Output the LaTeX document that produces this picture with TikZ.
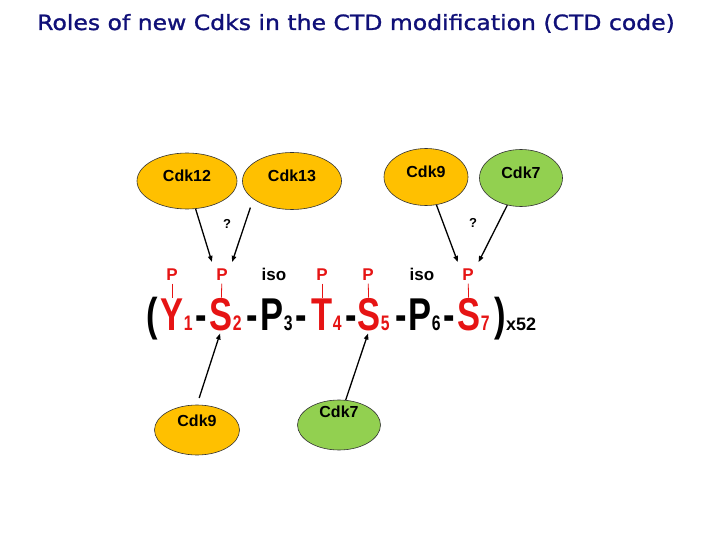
\documentclass[tikz,border=0pt]{standalone}
\usepackage{fontspec}
\setmainfont{Liberation Sans}
\newfontfamily\titlefont[FakeStretch=1.12,FakeBold=1.2]{DejaVu Sans}
\newfontfamily\seqfont[FakeStretch=0.75]{Liberation Sans}
\usetikzlibrary{arrows.meta,shapes.geometric}
\definecolor{ttlblue}{RGB}{16,16,120}
\definecolor{cdkorange}{RGB}{255,192,0}
\definecolor{cdkgreen}{RGB}{146,208,80}
\definecolor{seqred}{RGB}{230,20,20}
\newcommand{\lifted}[2]{\raisebox{#1}[\height][\depth]{#2}}

\begin{document}
\begin{tikzpicture}[x=1pt, y=-1pt,
    cdk/.style={ellipse, draw=black!80, line width=0.6pt, inner sep=0pt,
                font=\fontsize{16}{16}\selectfont\bfseries},
    res/.style={inner sep=0pt, anchor=base, font=\seqfont\fontsize{46}{46}\selectfont\bfseries},
    resub/.style={inner sep=0pt, anchor=base west, font=\seqfont\fontsize{21}{21}\selectfont\bfseries},
    pmark/.style={anchor=base, font=\fontsize{17}{17}\selectfont\bfseries},
    arr/.style={-{Triangle[length=6pt,width=4.5pt]}, line width=1.3pt, shorten >=3pt}]
  \fill[white] (0,0) rectangle (720,540);
  \useasboundingbox (0,0) rectangle (720,540);

  \node[font=\titlefont\fontsize{21}{21}\selectfont, text=ttlblue, anchor=base] (title) at (356,30)
    {Roles of new Cdks in the CTD modification (CTD code)};

  % kinases
  \node[cdk, fill=cdkorange, minimum width=100pt, minimum height=56pt] (cdk12) at (187,181) {\lifted{5pt}{Cdk12}};
  \node[cdk, fill=cdkorange, minimum width=99pt, minimum height=57pt] (cdk13) at (292,181) {\lifted{5pt}{Cdk13}};
  \node[cdk, fill=cdkorange, minimum width=84pt, minimum height=57pt] (cdk9a) at (426,177) {\lifted{5pt}{Cdk9}};
  \node[cdk, fill=cdkgreen, minimum width=83pt, minimum height=57pt] (cdk7a) at (521,178) {\lifted{5pt}{Cdk7}};
  \node[cdk, fill=cdkorange, minimum width=85pt, minimum height=50pt] (cdk9b) at (197,430) {\lifted{9pt}{Cdk9}};
  \node[cdk, fill=cdkgreen, minimum width=83pt, minimum height=50pt] (cdk7b) at (339,425) {\lifted{13pt}{Cdk7}};

  % heptad repeat
  \node[res] (lpar) at (152,330) {(};
  \foreach \x/\l/\c/\n in {172/Y/seqred/1, 221/S/seqred/2, 272/P/black/3, 322/T/seqred/4,
                           369/S/seqred/5, 420/P/black/6, 469/S/seqred/7} {
    \node[res, text=\c] (r\n) at (\x,330) {\l};
    \node[resub, text=\c] (s\n) at (r\n.base east) {\n};
  }
  \foreach \x [count=\k] in {201,252,301,351,401,449}
    \node[res] (h\k) at (\x,330) {-};
  \node[res] (rpar) at (500,330) {)};
  \node[inner sep=0pt, anchor=base west, font=\fontsize{18}{18}\selectfont\bfseries] (rep) at (rpar.base east) {x52};

  % phospho marks
  \foreach \x/\n in {172/1, 222/2, 322/4, 368/5, 468/7} {
    \node[pmark, text=seqred] (m\n) at (\x,280) {P};
    \draw[seqred, line width=0.8pt] (m\n) -- (r\n);
  }
  \node[pmark] (iso3) at (274,280) {iso};
  \node[pmark] (iso6) at (422,280) {iso};

  % arrows
  \draw[arr] (cdk12) -- (m2.north west);
  \draw[arr, shorten <=9pt] (cdk13.205) -- (m2.north east);
  \draw[arr] (cdk9a) -- (m7.north west);
  \draw[arr] (cdk7a) -- (m7.north east);
  \draw[arr, shorten <=7pt] (cdk9b.north) -- (r2.south);
  \draw[arr] (cdk7b.75) -- (r5.south);
  \node[font=\fontsize{13}{13}\selectfont\bfseries] (q1) at (227,224) {?};
  \node[font=\fontsize{13}{13}\selectfont\bfseries] (q2) at (473,223) {?};
\end{tikzpicture}
\end{document}
